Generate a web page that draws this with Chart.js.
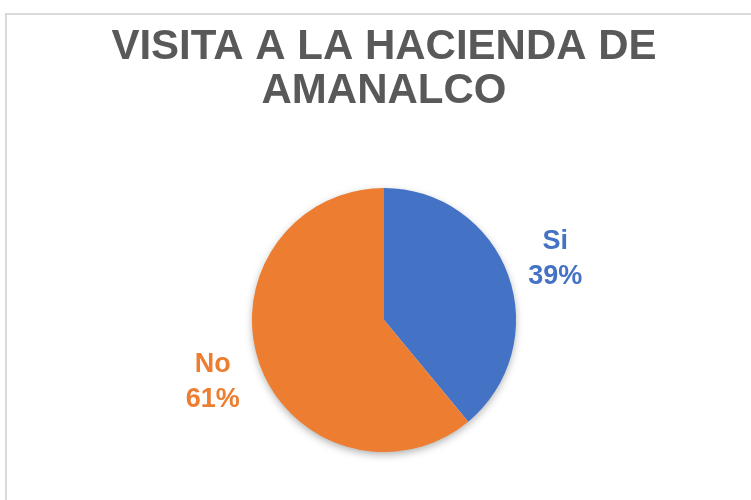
<!DOCTYPE html>
<html>
<head>
<meta charset="utf-8">
<script src="https://cdn.jsdelivr.net/npm/chart.js@4"></script>
<style>
    html, body { margin: 0; padding: 0; background: #fff; overflow: hidden; }
    #frame {
        position: absolute; left: 5px; top: 13px; width: 800px; height: 600px;
        border: 2px solid #d9d9d9; box-sizing: border-box;
    }
    #wrap { position: absolute; left: 0; top: 0; width: 751px; height: 500px; }
</style>
</head>
<body>
<div id="frame"></div>
<div id="wrap"><canvas id="pieChart" width="751" height="500"></canvas></div>
<script>
const categories = ["Si", "No"];
const values = [39, 61];
const sliceColors = ["#4472C4", "#ED7D31"];
const chartTitle = ["VISITA A LA HACIENDA DE", "AMANALCO"];

// soft shadow behind the pie, like Excel
const pieShadow = {
    id: "pieShadow",
    beforeDatasetsDraw(chart) {
        const arc = chart.getDatasetMeta(0).data[0];
        if (!arc) return;
        const ctx = chart.ctx;
        ctx.save();
        ctx.shadowColor = "rgba(0,0,0,0.35)";
        ctx.shadowBlur = 9;
        ctx.shadowOffsetY = 3;
        ctx.fillStyle = "#ffffff";
        ctx.beginPath();
        ctx.arc(arc.x, arc.y, arc.outerRadius - 1, 0, Math.PI * 2);
        ctx.fill();
        ctx.restore();
    }
};

// category + percent labels outside each slice
const outsideLabels = {
    id: "outsideLabels",
    afterDatasetsDraw(chart) {
        const ctx = chart.ctx;
        const total = values.reduce((a, b) => a + b, 0);
        chart.getDatasetMeta(0).data.forEach((arc, i) => {
            const mid = (arc.startAngle + arc.endAngle) / 2;
            const dist = arc.outerRadius + 50;
            const x = arc.x + Math.cos(mid) * dist;
            const y = arc.y + Math.sin(mid) * dist;
            ctx.save();
            ctx.font = "bold 27px 'Liberation Sans', Arial, sans-serif";
            ctx.fillStyle = sliceColors[i];
            ctx.textAlign = "center";
            ctx.textBaseline = "middle";
            ctx.fillText(categories[i], x, y - 17);
            ctx.fillText(Math.round(values[i] / total * 100) + "%", x, y + 18);
            ctx.restore();
        });
    }
};

const ctx = document.getElementById("pieChart").getContext("2d");

new Chart(ctx, {
    type: "pie",
    data: {
        labels: categories,
        datasets: [{
            data: values,
            backgroundColor: sliceColors,
            borderWidth: 0
        }]
    },
    options: {
        responsive: false,
        animation: false,
        layout: {
            padding: { left: 17, right: 0, top: 0, bottom: 48 }
        },
        plugins: {
            legend: { display: false },
            tooltip: { enabled: false },
            title: {
                display: true,
                text: chartTitle,
                color: "#595959",
                font: { family: "'Liberation Sans', Arial, sans-serif", size: 42, weight: "bold", lineHeight: 1.07 },
                padding: { top: 24.5, bottom: 73.5 }
            }
        }
    },
    plugins: [pieShadow, outsideLabels]
});
</script>
</body>
</html>
